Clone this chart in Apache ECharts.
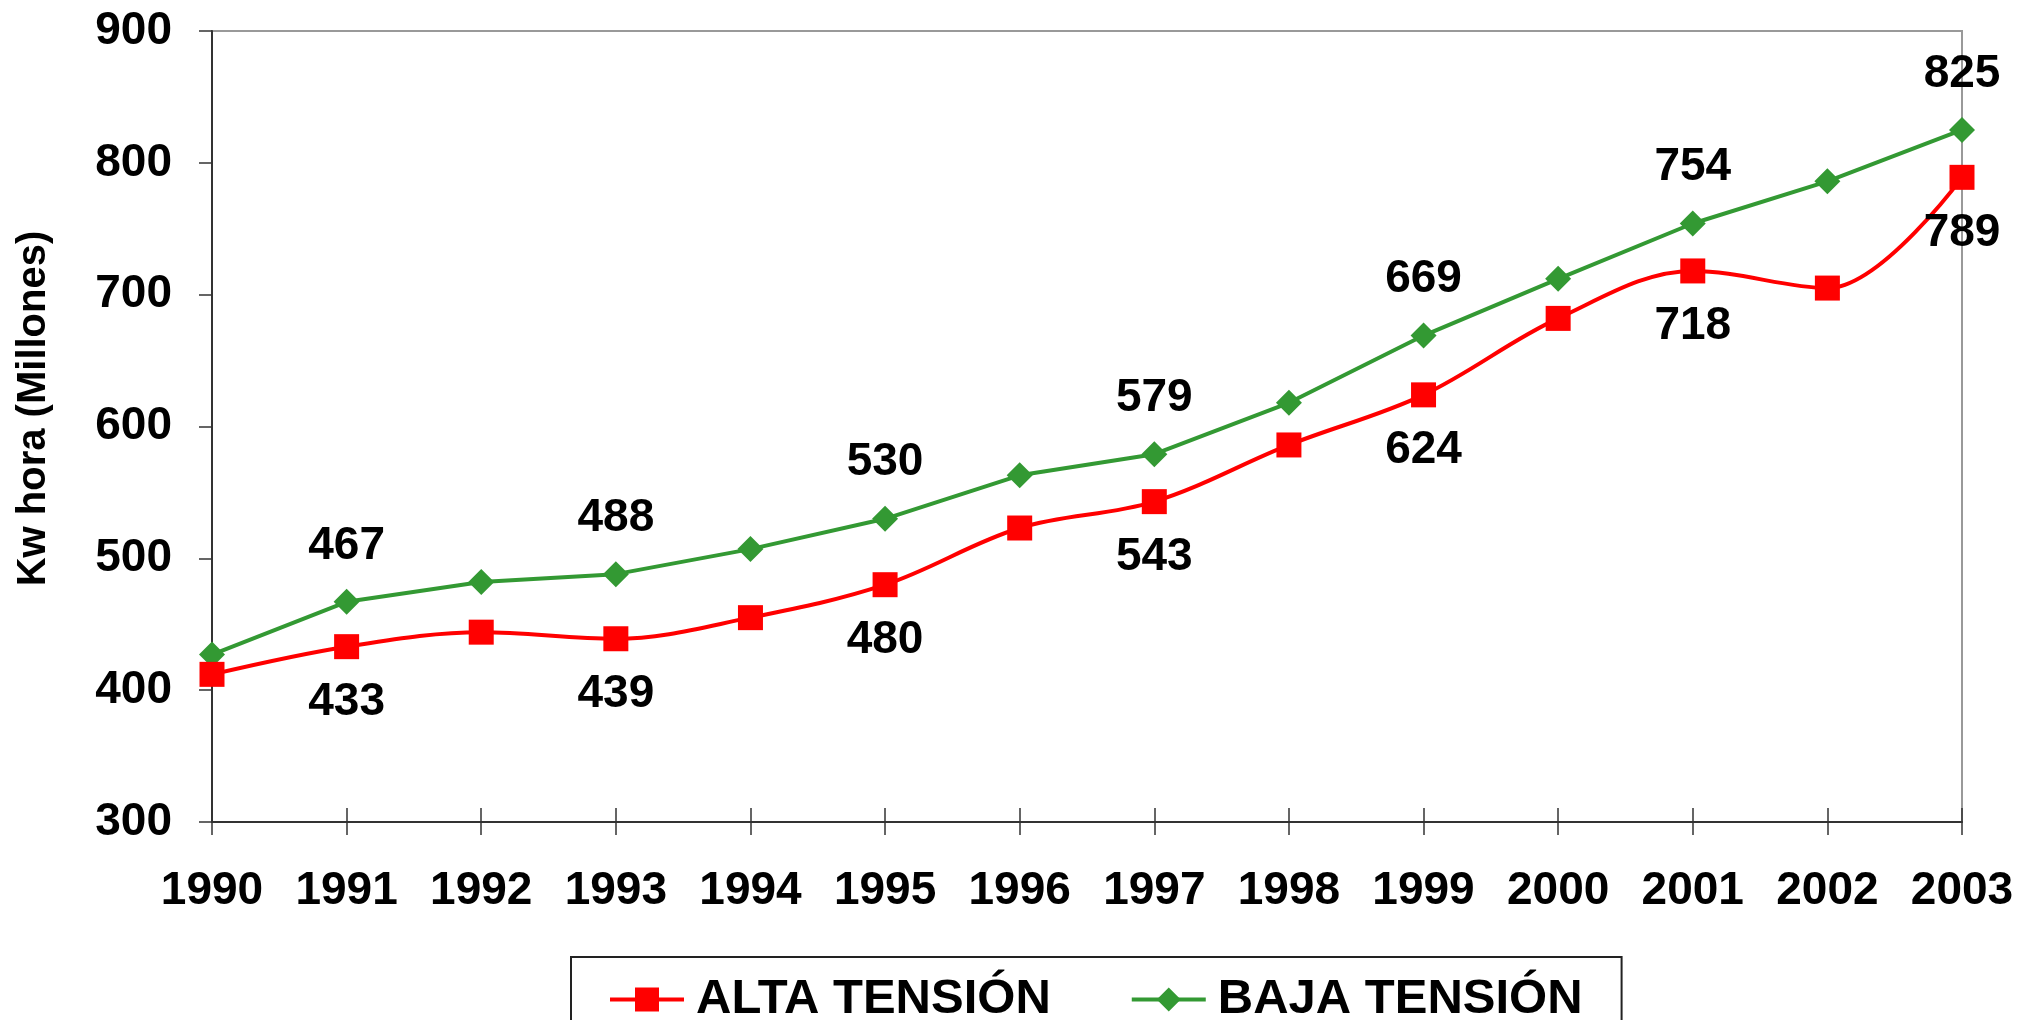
<!DOCTYPE html>
<html>
<head>
<meta charset="utf-8">
<title>Kw hora</title>
<script src="https://cdn.jsdelivr.net/npm/echarts@6/dist/echarts.min.js"></script>
<style>
    html, body { margin: 0; padding: 0; background: #fff; }
    #chart { width: 2019px; height: 1020px; }
</style>
</head>
<body>
<div id="chart"></div>
<script>
    // datos
    var years = ['1990','1991','1992','1993','1994','1995','1996','1997','1998','1999','2000','2001','2002','2003'];
    var altaTension = [412, 433, 444, 439, 455, 480, 523, 543, 586, 624, 682, 718, 705, 789];
    var bajaTension = [427, 467, 482, 488, 507, 530, 563, 579, 618, 669, 712, 754, 786, 825];
    var yTicks = [300, 400, 500, 600, 700, 800, 900];

    var FONT = 'Liberation Sans, Arial, sans-serif';

    // solo se etiquetan los años impares
    function oddLabel(p) {
        return p.dataIndex % 2 === 1 ? String(p.value) : '';
    }

    var chart = echarts.init(document.getElementById('chart'), null, { renderer: 'canvas' });
    chart.setOption({
        animation: false,
        backgroundColor: '#ffffff',
        textStyle: { fontFamily: FONT },
        grid: {
            left: 212,
            right: 57,
            top: 31,
            bottom: 198,
            show: true,
            borderColor: '#999999',
            borderWidth: 2
        },
        legend: {
            data: ['ALTA TENSIÓN', 'BAJA TENSIÓN'],
            left: 571,
            top: 957,
            padding: [18, 39, 40, 37],
            borderColor: '#222222',
            borderWidth: 2,
            itemWidth: 74,
            itemHeight: 30,
            itemGap: 79,
            lineStyle: { width: 4 },
            textStyle: {
                fontFamily: FONT,
                fontWeight: 'bold',
                fontSize: 49,
                color: '#000',
                padding: [0, 0, 0, 7]
            }
        },
        xAxis: [
            {
                type: 'category',
                data: years,
                boundaryGap: false,
                axisLine: { lineStyle: { color: '#333333', width: 2 } },
                axisTick: { show: true, length: 13, lineStyle: { color: '#333333', width: 1.5 } },
                axisLabel: {
                    margin: 46,
                    fontSize: 46,
                    fontWeight: 'bold',
                    color: '#000',
                    fontFamily: FONT
                },
                splitLine: { show: false }
            },
            {
                type: 'category',
                data: years,
                position: 'bottom',
                boundaryGap: false,
                axisLine: { show: false },
                axisTick: { show: true, inside: true, length: 14, lineStyle: { color: '#333333', width: 1.5 } },
                axisLabel: { show: false },
                splitLine: { show: false }
            }
        ],
        yAxis: {
            type: 'value',
            min: yTicks[0],
            max: yTicks[yTicks.length - 1],
            interval: 100,
            name: 'Kw hora (Millones)',
            nameLocation: 'middle',
            nameGap: 158,
            nameTextStyle: {
                fontSize: 40,
                fontWeight: 'bold',
                color: '#000',
                fontFamily: FONT,
                padding: [0, 0, 0, 36]
            },
            axisLine: { show: true, lineStyle: { color: '#333333', width: 2 } },
            axisTick: { show: true, length: 13, lineStyle: { color: '#333333', width: 1.5 } },
            axisLabel: {
                margin: 40,
                fontSize: 46,
                fontWeight: 'bold',
                color: '#000',
                fontFamily: FONT
            },
            splitLine: { show: false }
        },
        series: [
            {
                name: 'ALTA TENSIÓN',
                type: 'line',
                data: altaTension,
                smooth: 0.35,
                symbol: 'rect',
                symbolSize: 25,
                z: 3,
                lineStyle: { color: '#ff0000', width: 4 },
                itemStyle: { color: '#ff0000' },
                label: {
                    show: true,
                    position: 'bottom',
                    distance: 20,
                    formatter: oddLabel,
                    fontSize: 46,
                    fontWeight: 'bold',
                    color: '#000',
                    fontFamily: FONT
                }
            },
            {
                name: 'BAJA TENSIÓN',
                type: 'line',
                data: bajaTension,
                smooth: false,
                symbol: 'diamond',
                symbolSize: 26,
                z: 2,
                lineStyle: { color: '#339933', width: 4 },
                itemStyle: { color: '#339933' },
                label: {
                    show: true,
                    position: 'top',
                    distance: 20,
                    formatter: oddLabel,
                    fontSize: 46,
                    fontWeight: 'bold',
                    color: '#000',
                    fontFamily: FONT
                }
            }
        ]
    });
</script>
</body>
</html>
